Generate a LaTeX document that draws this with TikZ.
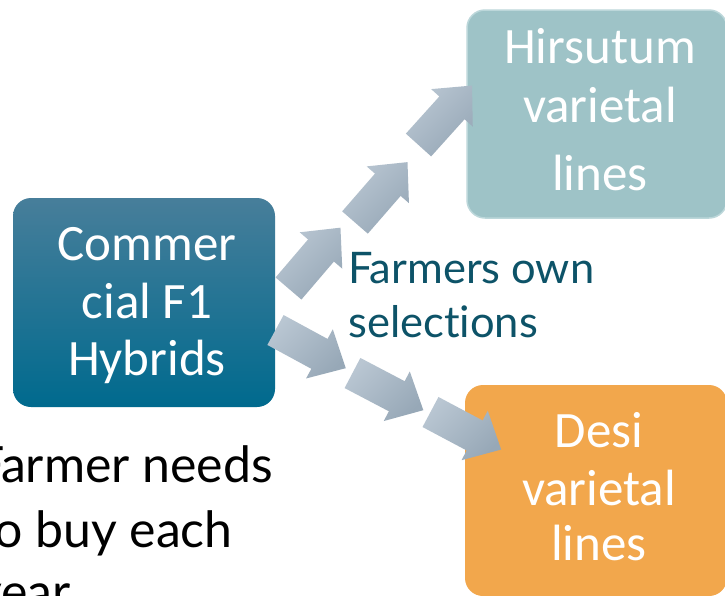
\documentclass[tikz,border=0pt]{standalone}
\usepackage{fontspec}
\setmainfont{Carlito}
\newfontfamily\gillfont[RawFeature={-liga;-dlig;-calt}]{Lato}
\usetikzlibrary{calc}
\definecolor{hybtop}{HTML}{477E9A}
\definecolor{hybbot}{HTML}{006A8E}
\definecolor{hirfill}{HTML}{9EC3C7}
\definecolor{hirline}{HTML}{BCD7DA}
\definecolor{desifill}{HTML}{F2A74C}
\definecolor{arrlight}{HTML}{B9C6D2}
\definecolor{arrdark}{HTML}{97A8B7}
\definecolor{seltext}{HTML}{0D5368}
\tikzset{
  boxbase/.style={rectangle, rounded corners=18pt, inner sep=0pt},
  boxlabel/.style={anchor=base, inner sep=0pt, text=white,
    font=\fontsize{51}{58}\selectfont},
  sellabel/.style={anchor=base west, inner sep=0pt, text=seltext,
    font=\gillfont\fontsize{43.5}{52}\selectfont},
  notelabel/.style={anchor=base west, inner sep=0pt, text=black,
    font=\gillfont\fontsize{50}{65}\selectfont},
  arrowshade/.style={top color=arrlight, bottom color=arrdark, shading angle=45},
}
% block arrow: tail centre #1, direction #2 (degrees, y pointing down)
\newcommand\blockarr[2]{%
  \path[arrowshade]
    ($(#1)+(#2+90:17)$) -- ($(#1)+(#2:50)+(#2+90:17)$)
    -- ($(#1)+(#2:50)+(#2+90:28)$) -- ($(#1)+(#2:80)$)
    -- ($(#1)+(#2:50)+(#2-90:28)$) -- ($(#1)+(#2:50)+(#2-90:17)$)
    -- ($(#1)+(#2-90:17)$) -- cycle;}
\begin{document}
\begin{tikzpicture}[x=1pt,y=-1pt]
\useasboundingbox (0,0) rectangle (725,595);
\clip (0,0) rectangle (725,595);
\fill[white] (0,0) rectangle (725,595);

% boxes
\node[boxbase, top color=hybtop, bottom color=hybbot,
  minimum width=262pt, minimum height=209pt] (hyb) at (144,302.5) {};
\node[boxbase, fill=hirfill, draw=hirline, line width=1.5pt,
  minimum width=260pt, minimum height=208pt] (hir) at (597,114) {};
\node[boxbase, fill=desifill,
  minimum width=262pt, minimum height=211pt] (desi) at (596,490.5) {};

% box labels
\node[boxlabel] (hyb1) at (147,260) {Commer};
\node[boxlabel] (hyb2) at (147,318) {cial F1};
\node[boxlabel] (hyb3) at (147,375) {Hybrids};
\node[boxlabel] (hir1) at (600,63) {Hirsutum};
\node[boxlabel] (hir2) at (600,122) {varietal};
\node[boxlabel] (hir3) at (600,190) {lines};
\node[boxlabel] (desi1) at (599,447) {Desi};
\node[boxlabel] (desi2) at (599,505) {varietal};
\node[boxlabel] (desi3) at (599,560) {lines};

% arrow tails
\coordinate (u1) at (288.5,288.5);
\coordinate (u2) at (355,222.5);
\coordinate (u3) at (418.5,145);
\coordinate (d1) at (275.5,330);
\coordinate (d2) at (352.5,373);
\coordinate (d3) at (430.5,412);
\blockarr{u1}{-49.5}
\blockarr{u2}{-49}
\blockarr{u3}{-48}
\blockarr{d1}{28.5}
\blockarr{d2}{27.7}
\blockarr{d3}{28}

% middle label
\node[sellabel] (sel1) at (348,283) {Farmers own};
\node[sellabel] (sel2) at (348,337) {selec\kern0pt tions};

% note below the hybrids box, running off the left and bottom edges
\node[notelabel] (note1) at (-24,482) {Farmer needs};
\node[notelabel] (note2) at (-24,547) {to buy each};
\node[notelabel] (note3) at (-24,609) {year};
\end{tikzpicture}
\end{document}
